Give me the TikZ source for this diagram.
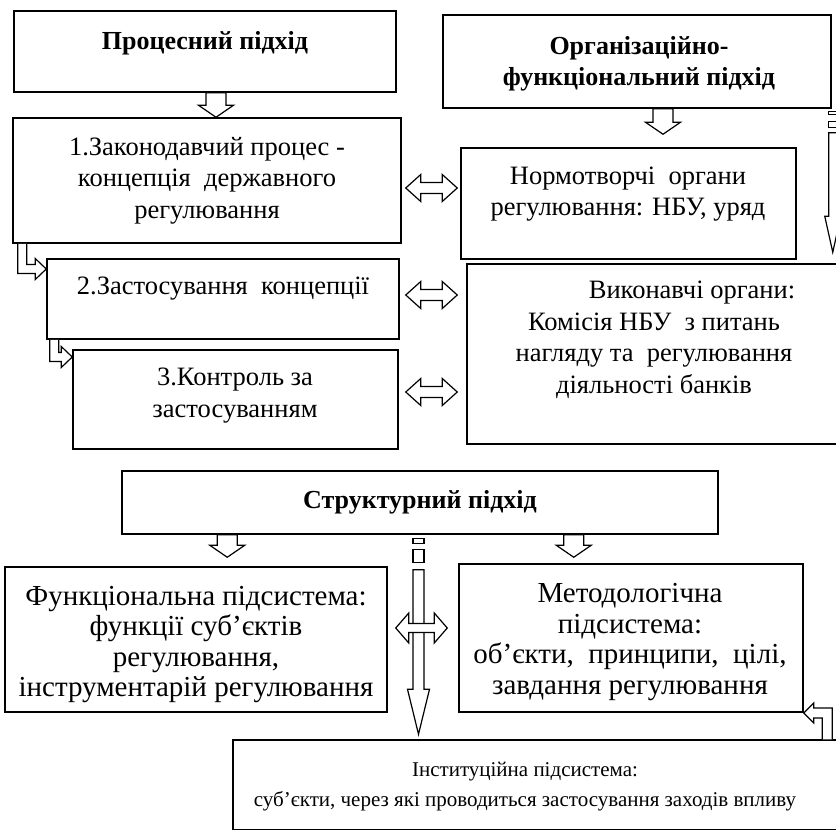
\documentclass[tikz,border=0pt]{standalone}
\usepackage{fontspec}
\setmainfont{Liberation Serif}
\usetikzlibrary{%
	calc%
}

\begin{document}
\begin{tikzpicture}[x=1pt,y=-1pt,
	frame/.style={draw,line width=1.5pt,inner sep=0pt},
	txt/.style={align=center,inner sep=0pt,font=\fontsize{26.5}{31.5}\selectfont},
	big/.style={align=center,inner sep=0pt,font=\fontsize{29}{30.5}\selectfont},
	small/.style={align=center,inner sep=0pt,font=\fontsize{21}{30}\selectfont},
	head/.style={txt,font=\fontsize{26}{31}\selectfont\bfseries},
	blk/.style={draw,line width=1.2pt,fill=white,line join=miter},
	downarr/.style n args={3}{blk,to path={let \p1=(\tikztostart),\p2=(\tikztotarget) in
		({\x1-#1},\y1) -- ({\x1-#1},{\y2+#3}) -- ({\x1-#2},{\y2+#3}) -- (\x1,\y2)
		-- ({\x1+#2},{\y2+#3}) -- ({\x1+#1},{\y2+#3}) -- ({\x1+#1},\y1) -- cycle}},
	dblarr/.style n args={3}{blk,to path={let \p1=(\tikztostart),\p2=(\tikztotarget) in
		(\x1,\y1) -- ({\x1+#3},{\y1+#2}) -- ({\x1+#3},{\y1+#1}) -- ({\x2-#3},{\y1+#1})
		-- ({\x2-#3},{\y1+#2}) -- (\x2,\y1) -- ({\x2-#3},{\y1-#2}) -- ({\x2-#3},{\y1-#1})
		-- ({\x1+#3},{\y1-#1}) -- ({\x1+#3},{\y1-#2}) -- cycle}},
	bentarr/.style n args={3}{blk,to path={let \p1=(\tikztostart),\p2=(\tikztotarget),
		\n1={sign(\x2-\x1)},\n2={sign(\y2-\y1)} in
		({\x1-(\n1)*#1},\y1) -- ({\x1-(\n1)*#1},{\y2+(\n2)*#1}) -- ({\x2-(\n1)*#3},{\y2+(\n2)*#1})
		-- ({\x2-(\n1)*#3},{\y2+(\n2)*#2}) -- (\x2,\y2) -- ({\x2-(\n1)*#3},{\y2-(\n2)*#2})
		-- ({\x2-(\n1)*#3},{\y2-(\n2)*#1}) -- ({\x1+(\n1)*#1},{\y2-(\n2)*#1}) -- ({\x1+(\n1)*#1},\y1)}}
	]
	\useasboundingbox (0,0) rectangle (836,830);
	\fill[white] (0,0) rectangle (836,830);

	% boxes
	\node[frame,minimum width=382pt,minimum height=81pt] (proc) at (205,51.5) {};
	\node[frame,minimum width=388pt,minimum height=93pt] (org) at (637,61.5) {};
	\node[frame,minimum width=388pt,minimum height=125pt] (zak) at (207,180.5) {};
	\node[frame,minimum width=352pt,minimum height=80pt] (zast) at (223,299) {};
	\node[frame,minimum width=325pt,minimum height=99pt] (kontr) at (235.5,399.5) {};
	\node[frame,minimum width=335pt,minimum height=111pt] (norm) at (628.5,203.5) {};
	\node[frame,minimum width=374pt,minimum height=180pt] (vyk) at (654,354) {};
	\node[frame,minimum width=596pt,minimum height=63pt] (strukt) at (420,502.5) {};
	\node[frame,minimum width=382pt,minimum height=145pt] (funk) at (196,639.5) {};
	\node[frame,minimum width=344pt,minimum height=148pt] (metod) at (631,638) {};
	\node[frame,minimum width=608pt,minimum height=90pt] (inst) at (537,785) {};

	% texts
	\node[head] (procT) at (205,43) {Процесний підхід};
	\node[head] (orgT) at (639,64) {Організаційно-\\функціональний підхід};
	\node[txt] (zakT) at (207,180.5) {1.Законодавчий процес -\\концепція~ державного\\регулювання};
	\node[txt] (zastT) at (223,288.5) {2.Застосування~ концепції};
	\node[txt] (kontrT) at (235,395.5) {3.Контроль за\\застосуванням};
	\node[txt] (normT) at (628,194) {Нормотворчі~ органи\\регулювання: НБУ, уряд};
	\node[txt] (vykT) at (654,340) {\hspace*{76pt}Виконавчі органи:\\Комісія НБУ~ з питань\\нагляду та~ регулювання\\діяльності банків};
	\node[head] (struktT) at (420,502) {Структурний підхід};
	\node[big] (funkT) at (196,644.5) {Функціональна підсистема:\\функції суб’єктів\\регулювання,\\інструментарій регулювання};
	\node[big] (metodT) at (630,642) {Методологічна\\підсистема:\\об’єкти,~ принципи,~ цілі,\\завдання регулювання};
	\node[small] (instT) at (525,787) {Інституційна підсистема:\\суб’єкти, через які проводиться застосування заходів впливу};

	% block arrows
	\draw[downarr={10pt}{17.5pt}{12pt}] ($(proc.south)+(11,0)$) to (zak.north);
	\draw[downarr={10pt}{17.5pt}{12pt}] ($(org.south)+(26,0)$) to ($(norm.north)+(0,-13)$);
	\draw[dblarr={5.5pt}{13.5pt}{15pt}] ($(zak.east)+(4,7.5)$) to ($(norm.west)+(-3,0)$);
	\draw[dblarr={5.5pt}{13.5pt}{15pt}] ($(zast.east)+(6,-4)$) to ($(vyk.west)+(-9,0)$);
	\draw[dblarr={5.5pt}{13.5pt}{15pt}] ($(kontr.east)+(7,-7.5)$) to ($(vyk.west)+(-9,0)$);
	\draw[bentarr={4.5pt}{10.5pt}{11pt}] ($(zak.south west)+(10,0)$) to ($(zast.west)+(0,-30)$);
	\draw[bentarr={4.5pt}{10.5pt}{11pt}] ($(zast.south west)+(8,0)$) to ($(kontr.west)+(0,-42.5)$);

	% striped arrow on the right
	\coordinate (rs) at ($(org.south east)+(1,3)$);
	\draw[blk] ($(rs)+(-4,0)$) rectangle ++(8,3) ($(rs)+(-4,10)$) rectangle ++(8,6);
	\draw[downarr={4pt}{8pt}{36pt}] ($(rs)+(0,21)$) to ($(vyk.north -| rs)+(0,-11)$);

	\draw[downarr={10pt}{17.5pt}{12pt}] ($(strukt.south west)+(106,0)$) to ($(funk.north)+(0,-9)$);
	\draw[downarr={10pt}{17.5pt}{12pt}] ($(strukt.south east)+(-145,0)$) to ($(metod.north)+(0,-6)$);

	% striped arrow in the middle
	\coordinate (cs) at ($(strukt.south)+(-1.5,4)$);
	\draw[blk] ($(cs)+(-5.5,0)$) rectangle ++(11,5) ($(cs)+(-5.5,11)$) rectangle ++(11,13);
	\draw[downarr={5.5pt}{11pt}{45pt}] ($(cs)+(0,31)$) to ($(inst.north -| cs)+(0,-5)$);
	\draw[dblarr={4.5pt}{15pt}{13pt}] ($(funk.east)+(8,-11.5)$) to ($(metod.west)+(-11,0)$);

	\draw[bentarr={5pt}{10pt}{10pt}] ($(inst.north east)+(-14.5,0)$) to ($(metod.east)+(0,75)$);
\end{tikzpicture}
\end{document}
